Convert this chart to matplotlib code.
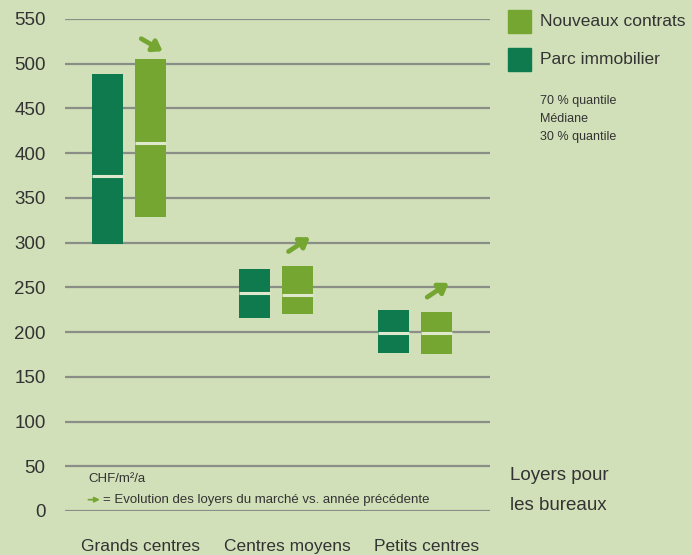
import matplotlib.pyplot as plt
from matplotlib.transforms import blended_transform_factory
from matplotlib.patches import Rectangle

# --- datos ---
categorias = ['Grands centres', 'Centres moyens', 'Petits centres']
pos_groupes = [0, 1.03, 2]

# Parc immobilier (30 % quantile, mediane, 70 % quantile)
parc_q30 = [299, 216, 177]
parc_med = [375, 244, 199]
parc_q70 = [488, 271, 225]

# Nouveaux contrats
nouv_q30 = [329, 220, 176]
nouv_med = [411, 242, 199]
nouv_q70 = [505, 274, 223]

# evolution vs annee precedente (-1 baisse, +1 hausse)
evolution = [-1, 1, 1]

y_ticks = list(range(0, 551, 50))

# --- estilo ---
FOND = '#d1e0b9'
VERT_FONCE = '#0f7a4e'
VERT_CLAIR = '#76a632'
GRILLE = '#8a8e86'
TEXTE = '#333333'
plt.rcParams['font.family'] = ['Liberation Sans', 'DejaVu Sans']

fig = plt.figure(figsize=(6.92, 5.55), dpi=100, facecolor=FOND)
ax = fig.add_axes([0.094, 0.0793, 0.614, 0.8865], facecolor=FOND)

ax.set_xlim(-0.4476, 2.524)
ax.set_ylim(0, 550)
ax.set_yticks(y_ticks)
ax.set_yticklabels([str(v) for v in y_ticks], fontsize=13.5, color=TEXTE)
ax.tick_params(axis='y', length=0, pad=14)
ax.set_xticks([])
for s in ax.spines.values():
    s.set_visible(False)
for v in y_ticks:
    ax.axhline(v, color=GRILLE, lw=1.6, zorder=1)

ancho = 0.217
decal = 0.15
for i, xc in enumerate(pos_groupes):
    for x, q30, med, q70, col in [(xc - decal, parc_q30[i], parc_med[i], parc_q70[i], VERT_FONCE),
                                  (xc + decal, nouv_q30[i], nouv_med[i], nouv_q70[i], VERT_CLAIR)]:
        ax.bar(x, q70 - q30, bottom=q30, width=ancho, color=col, zorder=3)
        ax.plot([x - ancho / 2, x + ancho / 2], [med, med], color='#dde8cc', lw=2.2,
                zorder=4, solid_capstyle='butt')

    # fleche d'evolution au-dessus de la barre "nouveaux contrats"
    xa = xc + decal
    top = nouv_q70[i]
    if evolution[i] < 0:
        y0, y1 = top + 23, top + 9
    else:
        y0, y1 = top + 16, top + 32
    ax.annotate('', xy=(xa + 0.085, y1), xytext=(xa - 0.065, y0),
                arrowprops=dict(arrowstyle='-|>,head_length=0.55,head_width=0.38',
                                color=VERT_CLAIR, lw=3.4, shrinkA=0, shrinkB=0),
                zorder=5)

# etiquettes des categories
trans = blended_transform_factory(ax.transData, ax.transAxes)
for xc, cat in zip(pos_groupes, categorias):
    ax.text(xc + 0.08, -0.072, cat, transform=trans, ha='center', va='center',
            fontsize=12.5, color=TEXTE, clip_on=False)

# notes en bas
ax.text(0.055, 0.065, 'CHF/m²/a', transform=ax.transAxes, fontsize=9.5,
        color=TEXTE, va='center')
ax.annotate('', xy=(0.082, 0.023), xytext=(0.055, 0.023), xycoords='axes fraction',
            arrowprops=dict(arrowstyle='-|>,head_length=0.3,head_width=0.15',
                            color=VERT_CLAIR, lw=1.3, shrinkA=0, shrinkB=0))
ax.text(0.09, 0.023, '= Evolution des loyers du marché vs. année précédente',
        transform=ax.transAxes, fontsize=9.5, color=TEXTE, va='center')

# legende
fig.patches.append(Rectangle((508 / 692, 1 - 33 / 555), 23 / 692, 23 / 555,
                             transform=fig.transFigure, color=VERT_CLAIR))
fig.patches.append(Rectangle((508 / 692, 1 - 71 / 555), 23 / 692, 23 / 555,
                             transform=fig.transFigure, color=VERT_FONCE))
fig.text(540 / 692, 1 - 22 / 555, 'Nouveaux contrats', fontsize=12.5, color=TEXTE, va='center')
fig.text(540 / 692, 1 - 60 / 555, 'Parc immobilier', fontsize=12.5, color=TEXTE, va='center')
for k, t in enumerate(['70 % quantile', 'Médiane', '30 % quantile']):
    fig.text(540 / 692, 1 - (101 + 18 * k) / 555, t, fontsize=9, color=TEXTE, va='center')

fig.text(510 / 692, 1 - 475 / 555, 'Loyers pour', fontsize=13.5, color=TEXTE, va='center')
fig.text(510 / 692, 1 - 506 / 555, 'les bureaux', fontsize=13.5, color=TEXTE, va='center')

fig.savefig('out.png', dpi=100, facecolor=FOND)
